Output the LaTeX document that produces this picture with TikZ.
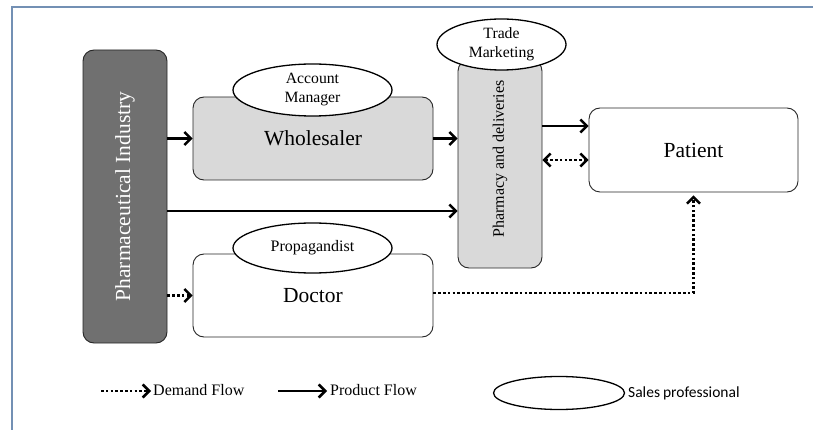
\documentclass[tikz,border=0pt]{standalone}
\usepackage{fontspec}
\setmainfont{Liberation Serif}
\newfontfamily\carl{Carlito}
\usetikzlibrary{arrows.meta,shapes.geometric,calc}
\definecolor{framec}{HTML}{7390B4}
\definecolor{darkg}{HTML}{707070}
\definecolor{lightg}{HTML}{D9D9D9}
\tikzset{
  box/.style={draw=black!85, line width=0.9pt, rounded corners=11pt, inner sep=0pt},
  oval/.style={draw=black, line width=1.3pt, ellipse, fill=white, inner sep=0pt, align=center, font=\fontsize{15.7}{19}\selectfont},
  prod/.style={line width=2.6pt, -{Straight Barb[length=6.5pt,width=13pt,line width=2.5pt]}},
  dem/.style={line width=2.6pt, dash pattern=on 2.6pt off 2.2pt, -{Straight Barb[length=6.5pt,width=13pt,line width=2.5pt]}},
  demboth/.style={line width=2.6pt, dash pattern=on 2.6pt off 2.2pt, {Straight Barb[length=6.5pt,width=13pt,line width=2.5pt]}-{Straight Barb[length=6.5pt,width=13pt,line width=2.5pt]}},
  big/.style={font=\fontsize{21.5}{25}\selectfont},
  legtext/.style={anchor=west, inner sep=0pt, font=\fontsize{16}{19}\selectfont}
}
\begin{document}
\begin{tikzpicture}[x=1pt,y=-1pt]
\useasboundingbox (0,0) rectangle (813,430);
\draw[framec, line width=1.3pt] (12,430) -- (12,7) -- (813,7);

% main boxes
\node[box, fill=darkg, minimum width=84pt, minimum height=293pt] (pharma) at (125,196.5) {};
\node[rotate=90, text=white, big] (pharmatext) at (pharma.center) {Pharmaceutical Industry};

\node[box, fill=lightg, minimum width=240pt, minimum height=83pt, big] (whole) at (313,138.5) {Wholesaler};
\node[box, fill=white, minimum width=240pt, minimum height=83pt, big] (doctor) at (313,295.5) {\raisebox{-2pt}{Doctor}};

\node[box, fill=lightg, minimum width=84pt, minimum height=208pt] (pharmacy) at (500,164) {};
\node[rotate=90, font=\fontsize{16}{19}\selectfont] (pharmacytext) at (500,159) {Pharmacy and deliveries};

\node[box, fill=white, minimum width=209pt, minimum height=84pt, big] (patient) at (693.5,150) {\raisebox{-2pt}{Patient}};

% ellipses
\node[oval, minimum width=159pt, minimum height=52pt] (acc) at (312.5,90) {Account\\Manager};
\node[oval, minimum width=159pt, minimum height=50pt, font=\fontsize{16}{19}\selectfont] (prop) at (312.5,248) {Propagandist};
\node[oval, minimum width=129pt, minimum height=51pt] (trade) at (501.5,44.5) {Trade\\Marketing};

% connectors
\draw[prod] (pharma.east |- whole.west) -- (whole.west);
\draw[prod] (whole.east) -- (whole.east -| pharmacy.west);
\draw[prod] (pharma.east |- 0,211) -- (pharmacy.west |- 0,211);
\draw[dem] (pharma.east |- doctor.west) -- (doctor.west);
\draw[prod] (pharmacy.east |- 0,126) -- (patient.west |- 0,126);
\draw[demboth] (pharmacy.east |- 0,160) -- (patient.west |- 0,160);
\draw[dem] (doctor.east |- 0,293) -| ($(patient.south)+(0,3)$);

% legend
\node[legtext] (ldem) at (153,390) {Demand Flow};
\coordinate (ldems) at (101,391);
\draw[dem] (ldems) -- ($(ldem.west |- ldems)+(-2,0)$);
\node[legtext] (lprod) at (330,390) {Product Flow};
\coordinate (lprods) at (278,391);
\draw[prod] (lprods) -- ($(lprod.west |- lprods)+(-3,0)$);
\node[oval, minimum width=131pt, minimum height=33pt] (lsales) at (559,393) {};
\node[legtext, font=\carl\fontsize{15.5}{18}\selectfont] (lsalestext) at (628,393) {Sales\hspace{3pt}professional};
\end{tikzpicture}
\end{document}
